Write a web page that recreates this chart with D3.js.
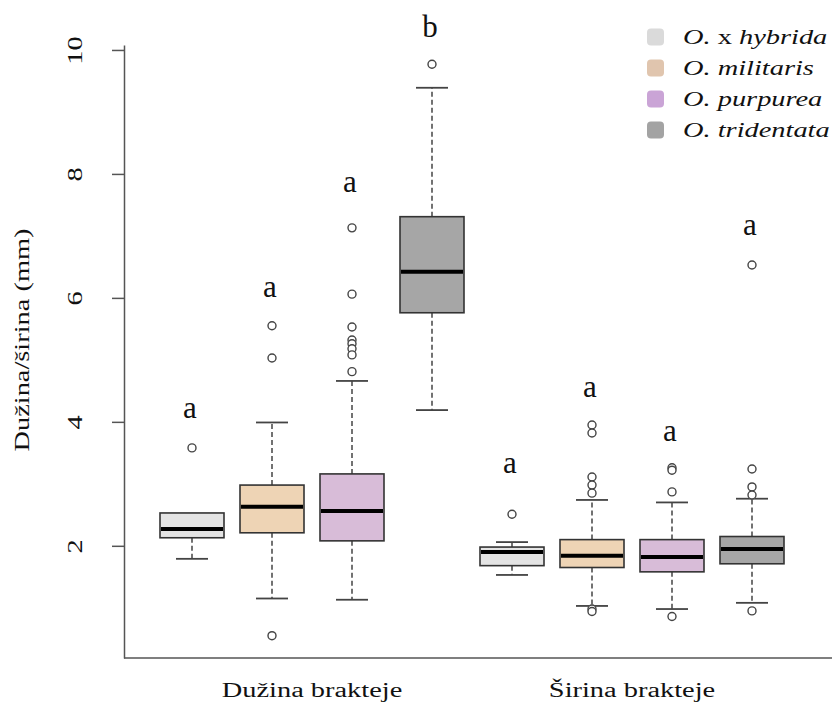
<!DOCTYPE html>
<html>
  <head>
    <style>
      body, html { margin: 0; padding: 0; background: #fff; }
      text { font-family: 'Liberation Serif', 'Times New Roman', serif; fill: #111; }
    </style>
  </head>
  <body>
    <svg id="svg" width="832" height="709"></svg>
    <script src="https://cdn.jsdelivr.net/npm/d3@7"></script>
    <script>
      // categories
      const groups = ['Dužina brakteje', 'Širina brakteje'];
      const species = ['O. x hybrida', 'O. militaris', 'O. purpurea', 'O. tridentata'];
      // one entry per box: 4 species for length, then 4 for width
      const q1 = [2.13, 2.21, 2.08, 5.76, 1.68, 1.65, 1.58, 1.71];
      const medians = [2.27, 2.63, 2.56, 6.42, 1.9, 1.84, 1.82, 1.95];
      const q3 = [2.53, 2.98, 3.16, 7.31, 1.98, 2.1, 2.1, 2.15];
      const whiskerLow = [1.79, 1.15, 1.13, 4.19, 1.53, 1.03, 0.98, 1.08];
      const whiskerHigh = [2.53, 3.99, 4.66, 9.39, 2.06, 2.74, 2.7, 2.76];
      const outliers = [
        [3.58],
        [5.55, 5.03, 0.55],
        [7.13, 6.06, 5.53, 5.32, 5.26, 5.18, 5.08, 4.81],
        [9.77],
        [2.51],
        [3.95, 3.82, 3.11, 2.98, 2.85, 0.98, 0.94],
        [3.26, 3.22, 2.87, 0.86],
        [6.53, 3.24, 2.95, 2.82, 0.95]
      ];
      const letters = ['a', 'a', 'a', 'b', 'a', 'a', 'a', 'a'];
      const letterAt = [4.06, 6.01, 7.71, 10.21, 3.17, 4.4, 3.69, 7.01];
      const yTicks = [2, 4, 6, 8, 10];

      const fills = ['#e4e4e4', '#eed4b5', '#d8bcd8', '#a6a6a6'];
      const legendFills = ['#dadada', '#e0c5ae', '#caa4d6', '#a3a3a3'];

      const svg = d3.select('#svg');
      const x = d3.scaleLinear().domain([1, 8]).range([192, 752]);
      const y = d3.scaleLinear().domain([0.19, 10.08]).range([658, 45]);
      const boxW = 64;
      const stretch = 'scale(1.42,1)';

      // axes (L-shaped frame)
      svg.append('line').attr('x1', 124).attr('x2', 832)
        .attr('y1', y(0.19)).attr('y2', y(0.19))
        .attr('stroke', '#555').attr('stroke-width', 1.5);
      const yAxis = svg.append('g').attr('transform', 'translate(124,0)')
        .call(d3.axisLeft(y).tickValues(yTicks).tickSize(12).tickSizeOuter(0).tickFormat(d3.format('d')));
      yAxis.select('.domain').attr('stroke', '#555').attr('stroke-width', 1.5);
      yAxis.selectAll('.tick line').attr('stroke', '#555').attr('stroke-width', 1.5);
      yAxis.selectAll('.tick text').remove();
      yAxis.selectAll('.tick').append('g')
        .attr('transform', 'translate(-49,0) rotate(-90)')
        .append('text')
        .attr('transform', stretch)
        .attr('text-anchor', 'middle')
        .attr('dy', '0.35em')
        .attr('font-size', 20)
        .attr('font-family', 'Liberation Serif')
        .attr('fill', '#222')
        .text((d) => d);

      svg.append('g').attr('transform', 'translate(22,340) rotate(-90)')
        .append('text').attr('transform', stretch)
        .attr('text-anchor', 'middle').attr('dy', '0.35em')
        .attr('font-size', 20).text('Dužina/širina (mm)');

      groups.forEach((g, gi) => {
        svg.append('g').attr('transform', `translate(${(x(gi * 4 + 1) + x(gi * 4 + 4)) / 2},690)`)
          .append('text').attr('transform', stretch)
          .attr('text-anchor', 'middle').attr('dy', '0.35em')
          .attr('font-size', 20).text(g);
      });

      // boxes
      const boxes = d3.range(8).map((i) => ({
        i,
        pos: i + 1,
        fill: fills[i % 4],
        q1: q1[i], med: medians[i], q3: q3[i],
        lo: whiskerLow[i], hi: whiskerHigh[i],
        out: outliers[i], letter: letters[i], letterAt: letterAt[i]
      }));

      const b = svg.selectAll('g.box').data(boxes).join('g').attr('class', 'box');

      b.append('line')
        .attr('x1', (d) => x(d.pos)).attr('x2', (d) => x(d.pos))
        .attr('y1', (d) => y(d.q3)).attr('y2', (d) => y(d.hi))
        .attr('stroke', '#444').attr('stroke-width', 1.5).attr('stroke-dasharray', '5,3');
      b.append('line')
        .attr('x1', (d) => x(d.pos)).attr('x2', (d) => x(d.pos))
        .attr('y1', (d) => y(d.q1)).attr('y2', (d) => y(d.lo))
        .attr('stroke', '#444').attr('stroke-width', 1.5).attr('stroke-dasharray', '5,3');
      b.filter((d) => d.hi > d.q3).append('line')
        .attr('x1', (d) => x(d.pos) - boxW / 4).attr('x2', (d) => x(d.pos) + boxW / 4)
        .attr('y1', (d) => y(d.hi)).attr('y2', (d) => y(d.hi))
        .attr('stroke', '#444').attr('stroke-width', 1.8);
      b.append('line')
        .attr('x1', (d) => x(d.pos) - boxW / 4).attr('x2', (d) => x(d.pos) + boxW / 4)
        .attr('y1', (d) => y(d.lo)).attr('y2', (d) => y(d.lo))
        .attr('stroke', '#444').attr('stroke-width', 1.8);
      b.append('rect')
        .attr('x', (d) => x(d.pos) - boxW / 2).attr('width', boxW)
        .attr('y', (d) => y(d.q3)).attr('height', (d) => y(d.q1) - y(d.q3))
        .attr('fill', (d) => d.fill).attr('stroke', '#333').attr('stroke-width', 1.6);
      b.append('line')
        .attr('x1', (d) => x(d.pos) - boxW / 2 + 1).attr('x2', (d) => x(d.pos) + boxW / 2 - 1)
        .attr('y1', (d) => y(d.med)).attr('y2', (d) => y(d.med))
        .attr('stroke', '#000').attr('stroke-width', 4);
      b.selectAll('circle').data((d) => d.out.map((v) => ({ pos: d.pos, v })))
        .join('circle')
        .attr('cx', (d) => x(d.pos)).attr('cy', (d) => y(d.v)).attr('r', 4)
        .attr('fill', '#fff').attr('stroke', '#444').attr('stroke-width', 1.4);
      b.append('text')
        .attr('x', (d) => x(d.pos) - 2).attr('y', (d) => y(d.letterAt))
        .attr('text-anchor', 'middle').attr('font-size', 31).attr('fill', '#111')
        .text((d) => d.letter);

      // legend
      const lg = svg.selectAll('g.leg').data(species).join('g').attr('class', 'leg')
        .attr('transform', (d, i) => `translate(647,${37 + i * 31})`);
      lg.append('rect').attr('x', 0).attr('y', -8.5).attr('width', 17).attr('height', 17)
        .attr('rx', 4).attr('fill', (d, i) => legendFills[i]);
      const lt = lg.append('text').attr('transform', 'translate(36,0) scale(1.42,1)')
        .attr('dy', '0.35em').attr('font-size', 20).attr('fill', '#111');
      lt.each(function (d) {
        const parts = d.split(' ');
        const t = d3.select(this);
        parts.forEach((p, k) => {
          t.append('tspan')
            .attr('font-style', p === 'x' ? 'normal' : 'italic')
            .text((k ? ' ' : '') + p);
        });
      });
    </script>
  </body>
</html>
